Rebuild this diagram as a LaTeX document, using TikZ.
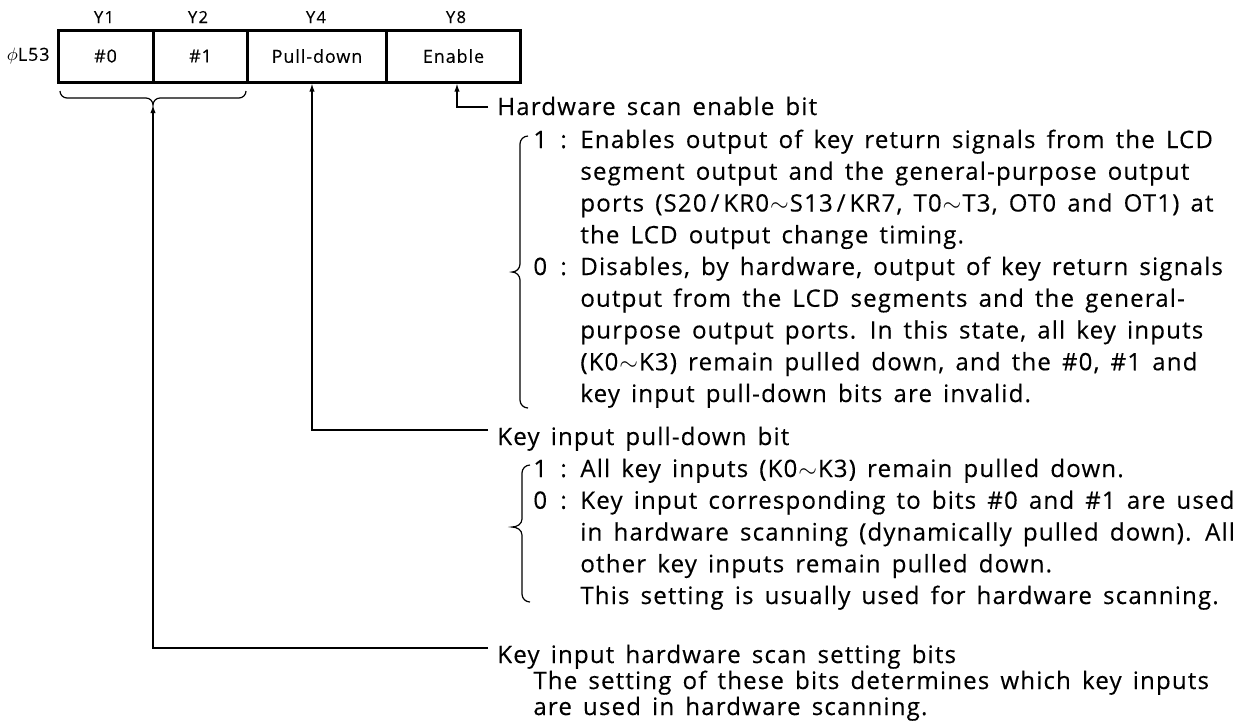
\documentclass[tikz,border=0pt]{standalone}
\usepackage{fontspec}
\setmainfont{Open Sans}[LetterSpace=5,WordSpace=1.5,FakeBold=0.3]
\usetikzlibrary{arrows.meta}
\newcommand{\mainsz}{\fontsize{12pt}{14pt}\selectfont}
\newcommand{\cellsz}{\fontsize{9pt}{10pt}\selectfont}
\newcommand{\ysz}{\fontsize{8.3pt}{9pt}\selectfont\addfontfeature{LetterSpace=8}}
\newcommand{\tld}{\kern0.5pt$\mathord{\sim}$\kern0.5pt}
\begin{document}
\begin{tikzpicture}[x=0.5pt,y=-0.5pt,
  txt/.style={anchor=base west,inner sep=0pt,font=\mainsz},
  cellbox/.style={draw,line width=1.5pt,minimum height=26pt,inner sep=0pt,font=\cellsz},
  ylab/.style={anchor=base,inner sep=0pt,font=\ysz},
  conn/.style={line width=0.6pt},
  arr/.style={line width=0.6pt,-{Latex[length=4pt,width=2.6pt]}},
  brc/.style={line width=0.6pt}]
\useasboundingbox (0,0) rectangle (1254,720);
% register
\node[cellbox,minimum width=47.5pt] (c0) at (105.5,56) {\#0};
\node[cellbox,minimum width=47pt] (c1) at (200.5,56) {\#1};
\node[cellbox,minimum width=69.5pt] (c2) at (317,56) {Pull-down};
\node[cellbox,minimum width=67pt] (c3) at (453.5,56) {Enable};
\node[anchor=east,inner sep=0pt,font=\cellsz] (reg) at (50,56) {$\phi$L53};
\node[ylab] (y1) at (104,23) {Y1};
\node[ylab] (y2) at (198,23) {Y2};
\node[ylab] (y4) at (316,23) {Y4};
\node[ylab] (y8) at (456,23) {Y8};
% brace under #0 #1
\draw[brc] (60,91) to[out=-90,in=180] (67,98) -- (146,98) to[out=0,in=90] (153,105)
  to[out=90,in=180] (160,98) -- (239,98) to[out=0,in=-90] (246,91);
\coordinate (bt) at (153,105);
% headings
\node[txt] (hw) at (497,115) {Hardware scan enable bit};
\node[txt] (pd) at (497,445) {Key input pull-down bit};
\node[txt] (ks) at (497,663) {Key input hardware scan setting bits};
% connectors
\coordinate (a3) at (457,107);
\coordinate (a2) at (312,430);
\coordinate (a1) at (153,648);
\draw[arr] (488,107) -- (a3) -- (a3 |- c3.south);
\draw[arr] (488,430) -- (a2) -- (a2 |- c2.south);
\draw[arr] (488,648) -- (a1) -- (bt);
% block 1
\draw[brc] (528,136) to[out=180,in=90] (520,144) -- (520,264) to[out=-90,in=0] (512,272)
  to[out=0,in=90] (520,280) -- (520,400) to[out=-90,in=180] (528,408);
\node[txt] (n11) at (533,148) {1};
\node[txt] (k11) at (560,148) {:};
\node[txt] (l11) at (580,148) {Enables output of key return signals from the LCD};
\node[txt] (l12) at (580,179.75) {segment output and the general-purpose output};
\node[txt] (l13) at (580,211.5) {ports (S20\,/\,KR0\tld S13\,/\,KR7, T0\tld T3, OT0 and OT1) at};
\node[txt] (l14) at (580,243.25) {the LCD output change timing.};
\node[txt] (n10) at (533,275) {0};
\node[txt] (k10) at (560,275) {:};
\node[txt] (l15) at (580,275) {Disables, by hardware, output of key return signals};
\node[txt] (l16) at (580,306.75) {output from the LCD segments and the general-};
\node[txt] (l17) at (580,338.5) {purpose output ports. In this state, all key inputs};
\node[txt] (l18) at (580,370.25) {(K0\tld K3) remain pulled down, and the \#0, \#1 and};
\node[txt] (l19) at (580,402) {key input pull-down bits are invalid.};
% block 2
\draw[brc] (530,465) to[out=180,in=90] (522,473) -- (522,519) to[out=-90,in=0] (512,527)
  to[out=0,in=90] (522,535) -- (522,594) to[out=-90,in=180] (530,602);
\node[txt] (n21) at (533,477) {1};
\node[txt] (k21) at (560,477) {:};
\node[txt] (l21) at (580,477) {All key inputs (K0\tld K3) remain pulled down.};
\node[txt] (n20) at (533,508.75) {0};
\node[txt] (k20) at (560,508.75) {:};
\node[txt] (l22) at (580,508.75) {Key input corresponding to bits \#0 and \#1 are used};
\node[txt] (l23) at (580,540.5) {in hardware scanning (dynamically pulled down). All};
\node[txt] (l24) at (580,572.25) {other key inputs remain pulled down.};
\node[txt] (l25) at (580,604) {This setting is usually used for hardware scanning.};
% block 3
\node[txt] (l31) at (533,689) {The setting of these bits determines which key inputs};
\node[txt] (l32) at (533,715) {are used in hardware scanning.};
\end{tikzpicture}
\end{document}
